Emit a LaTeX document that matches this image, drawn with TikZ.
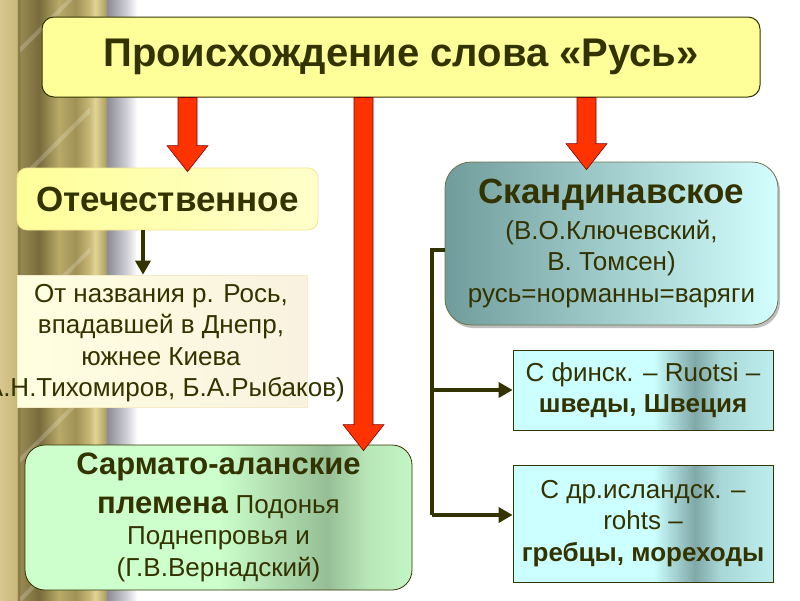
\documentclass[tikz,border=0pt]{standalone}
\usepackage{fontspec}
\setmainfont{Liberation Sans}
\usetikzlibrary{arrows.meta,calc,shadows}
\definecolor{T1}{RGB}{51,51,0}
\definecolor{R1}{RGB}{255,51,0}
\definecolor{Y1}{RGB}{255,255,153}
\definecolor{G1}{RGB}{204,255,204}
\definecolor{G2}{RGB}{150,190,150}
\definecolor{C1}{RGB}{204,255,255}
\definecolor{C2}{RGB}{128,168,168}
\definecolor{S1}{RGB}{112,156,156}
\definecolor{S2}{RGB}{212,255,255}
\pgfdeclarehorizontalshading{greenband}{100bp}{color(0bp)=(G1); color(50bp)=(G1);
  color(64bp)=(G2); color(69bp)=(G1!60!G2); color(75bp)=(G1!85!G2); color(100bp)=(G1!85!G2)}
\pgfdeclarehorizontalshading{cyanband}{100bp}{color(0bp)=(C1); color(52bp)=(C1);
  color(60bp)=(C2); color(65bp)=(C1!55!C2); color(75bp)=(C1!80!C2); color(100bp)=(C1!80!C2)}
\pgfdeclarehorizontalshading{pillar}{100bp}{color(0bp)=(rgb,255:red,216;green,200;blue,144);
  color(25bp)=(rgb,255:red,216;green,200;blue,144); color(31bp)=(rgb,255:red,200;green,184;blue,120);
  color(31.5bp)=(rgb,255:red,130;green,115;blue,70); color(32.5bp)=(rgb,255:red,150;green,135;blue,80);
  color(39bp)=(rgb,255:red,120;green,108;blue,60); color(46bp)=(rgb,255:red,185;green,170;blue,105);
  color(52bp)=(rgb,255:red,160;green,145;blue,85); color(57bp)=(rgb,255:red,200;green,185;blue,120);
  color(59bp)=(rgb,255:red,225;green,212;blue,150); color(62.5bp)=(rgb,255:red,180;green,165;blue,100);
  color(63.3bp)=(rgb,255:red,140;green,140;blue,150); color(70bp)=(rgb,255:red,205;green,205;blue,212);
  color(74bp)=(white); color(100bp)=(white)}
\newcommand{\redarrow}[2]{%
  \draw[redshape] let \p1=(#1), \p2=(#2) in
    (\x1-9.5pt,\y1) -- (\x1-9.5pt,\y2+26pt) -- (\x1-20.5pt,\y2+26pt) -- (\x2,\y2)
    -- (\x1+20.5pt,\y2+26pt) -- (\x1+9.5pt,\y2+26pt) -- (\x1+9.5pt,\y1) -- cycle;}
\tikzset{
  txt/.style={text=T1, font=\fontsize{26}{31.5}\selectfont, align=center},
  titlebox/.style={draw=T1, line width=1pt, fill=Y1, rounded corners=12pt,
    minimum width=718pt, minimum height=80pt, text=T1, font=\bfseries\fontsize{40}{44}\selectfont},
  headbox/.style={draw=yellow!60!brown!50, line width=0.8pt, rounded corners=10pt,
    left color=Y1, right color=Y1!50!white, minimum width=301pt, minimum height=62pt,
    text=T1, font=\bfseries\fontsize{35}{40}\selectfont},
  lightbox/.style={draw=yellow!40!brown!25, line width=0.6pt, left color=yellow!12,
    right color=yellow!30!brown!15, minimum width=290pt, minimum height=132pt},
  greenbox/.style={txt, draw=T1, line width=0.8pt, rounded corners=20pt, shading=greenband,
    minimum width=387pt, minimum height=145pt},
  skandbox/.style={txt, draw=T1!70, line width=0.8pt, rounded corners=26pt, shading angle=120,
    left color=S1, right color=S2, minimum width=333pt, minimum height=163pt,
    drop shadow={shadow xshift=2pt, shadow yshift=-3pt, opacity=0.5}},
  cyanbox/.style={txt, draw=T1, line width=0.8pt, shading=cyanband, minimum width=260pt},
  redshape/.style={draw=red!50!black, line width=0.6pt, fill=R1},
  link/.style={draw=T1, line width=4pt, -{Triangle[width=15pt,length=14pt]}},
}
\begin{document}
\begin{tikzpicture}[x=1pt,y=-1pt]
\useasboundingbox (0,0) rectangle (800,600);
% pillar on the left
\shade[shading=pillar] (0,0) rectangle (140,600);
\begin{scope}
  \clip (20,0) rectangle (90,600);
  \foreach \y in {60,190,330,470,610}
    \draw[white, opacity=0.2, line width=4pt] (10,\y) -- (100,\y-90);
\end{scope}
% boxes
\node[titlebox] (title) at (401,57) {Происхождение слова «Русь»};
\node[headbox] (home) at (167.5,199) {Отечественное};
\node[lightbox] (ros) at (162,341) {};
\node[txt] (rostext) at (161,343) {От названия р. Рось,\\ впадавшей в Днепр,\\ южнее Киева\\ (А.Н.Тихомиров, Б.А.Рыбаков)};
\node[greenbox] (sarm) at (218.5,517.5) {\textbf{\fontsize{31}{38}\selectfont Сармато-аланские}\\[7pt]
  \textbf{\fontsize{31}{38}\selectfont племена} Подонья\\ Поднепровья и\\ (Г.В.Вернадский)};
\node[skandbox] (skand) at (611.5,243.5) {\textbf{\fontsize{35}{39}\selectfont Скандинавское}\\[4pt]
  (В.О.Ключевский,\\ В. Томсен)\\ русь=норманны=варяги};
\node[cyanbox, minimum height=80pt] (fin) at (643,390) {С финск. – Ruotsi –\\ \textbf{шведы, Швеция}};
\node[cyanbox, minimum height=117pt] (isl) at (643,523.5) {С др.исландск. –\\ rohts –\\ \textbf{гребцы, мореходы}};
% connectors
\coordinate (a0) at (143,0);
\coordinate (a1) at (187.5,0);
\coordinate (a2) at (363.5,0);
\coordinate (a3) at (586.5,0);
\coordinate (br) at (432,250);
\coordinate (brend) at (432,515);
\draw[link] (home.south -| a0) -- (ros.north -| a0);
\draw[draw=T1, line width=4pt] (skand.west |- br) -- (br) -- (brend);
\draw[link] (br |- fin.west) -- (fin.west);
\draw[link] (brend) -- (isl.west |- brend);
\redarrow{title.south -| a1}{$(home.north -| a1)+(0,4)$}
\redarrow{title.south -| a2}{$(sarm.north -| a2)+(0,6)$}
\redarrow{title.south -| a3}{$(skand.north -| a3)+(0,8)$}
\end{tikzpicture}
\end{document}
